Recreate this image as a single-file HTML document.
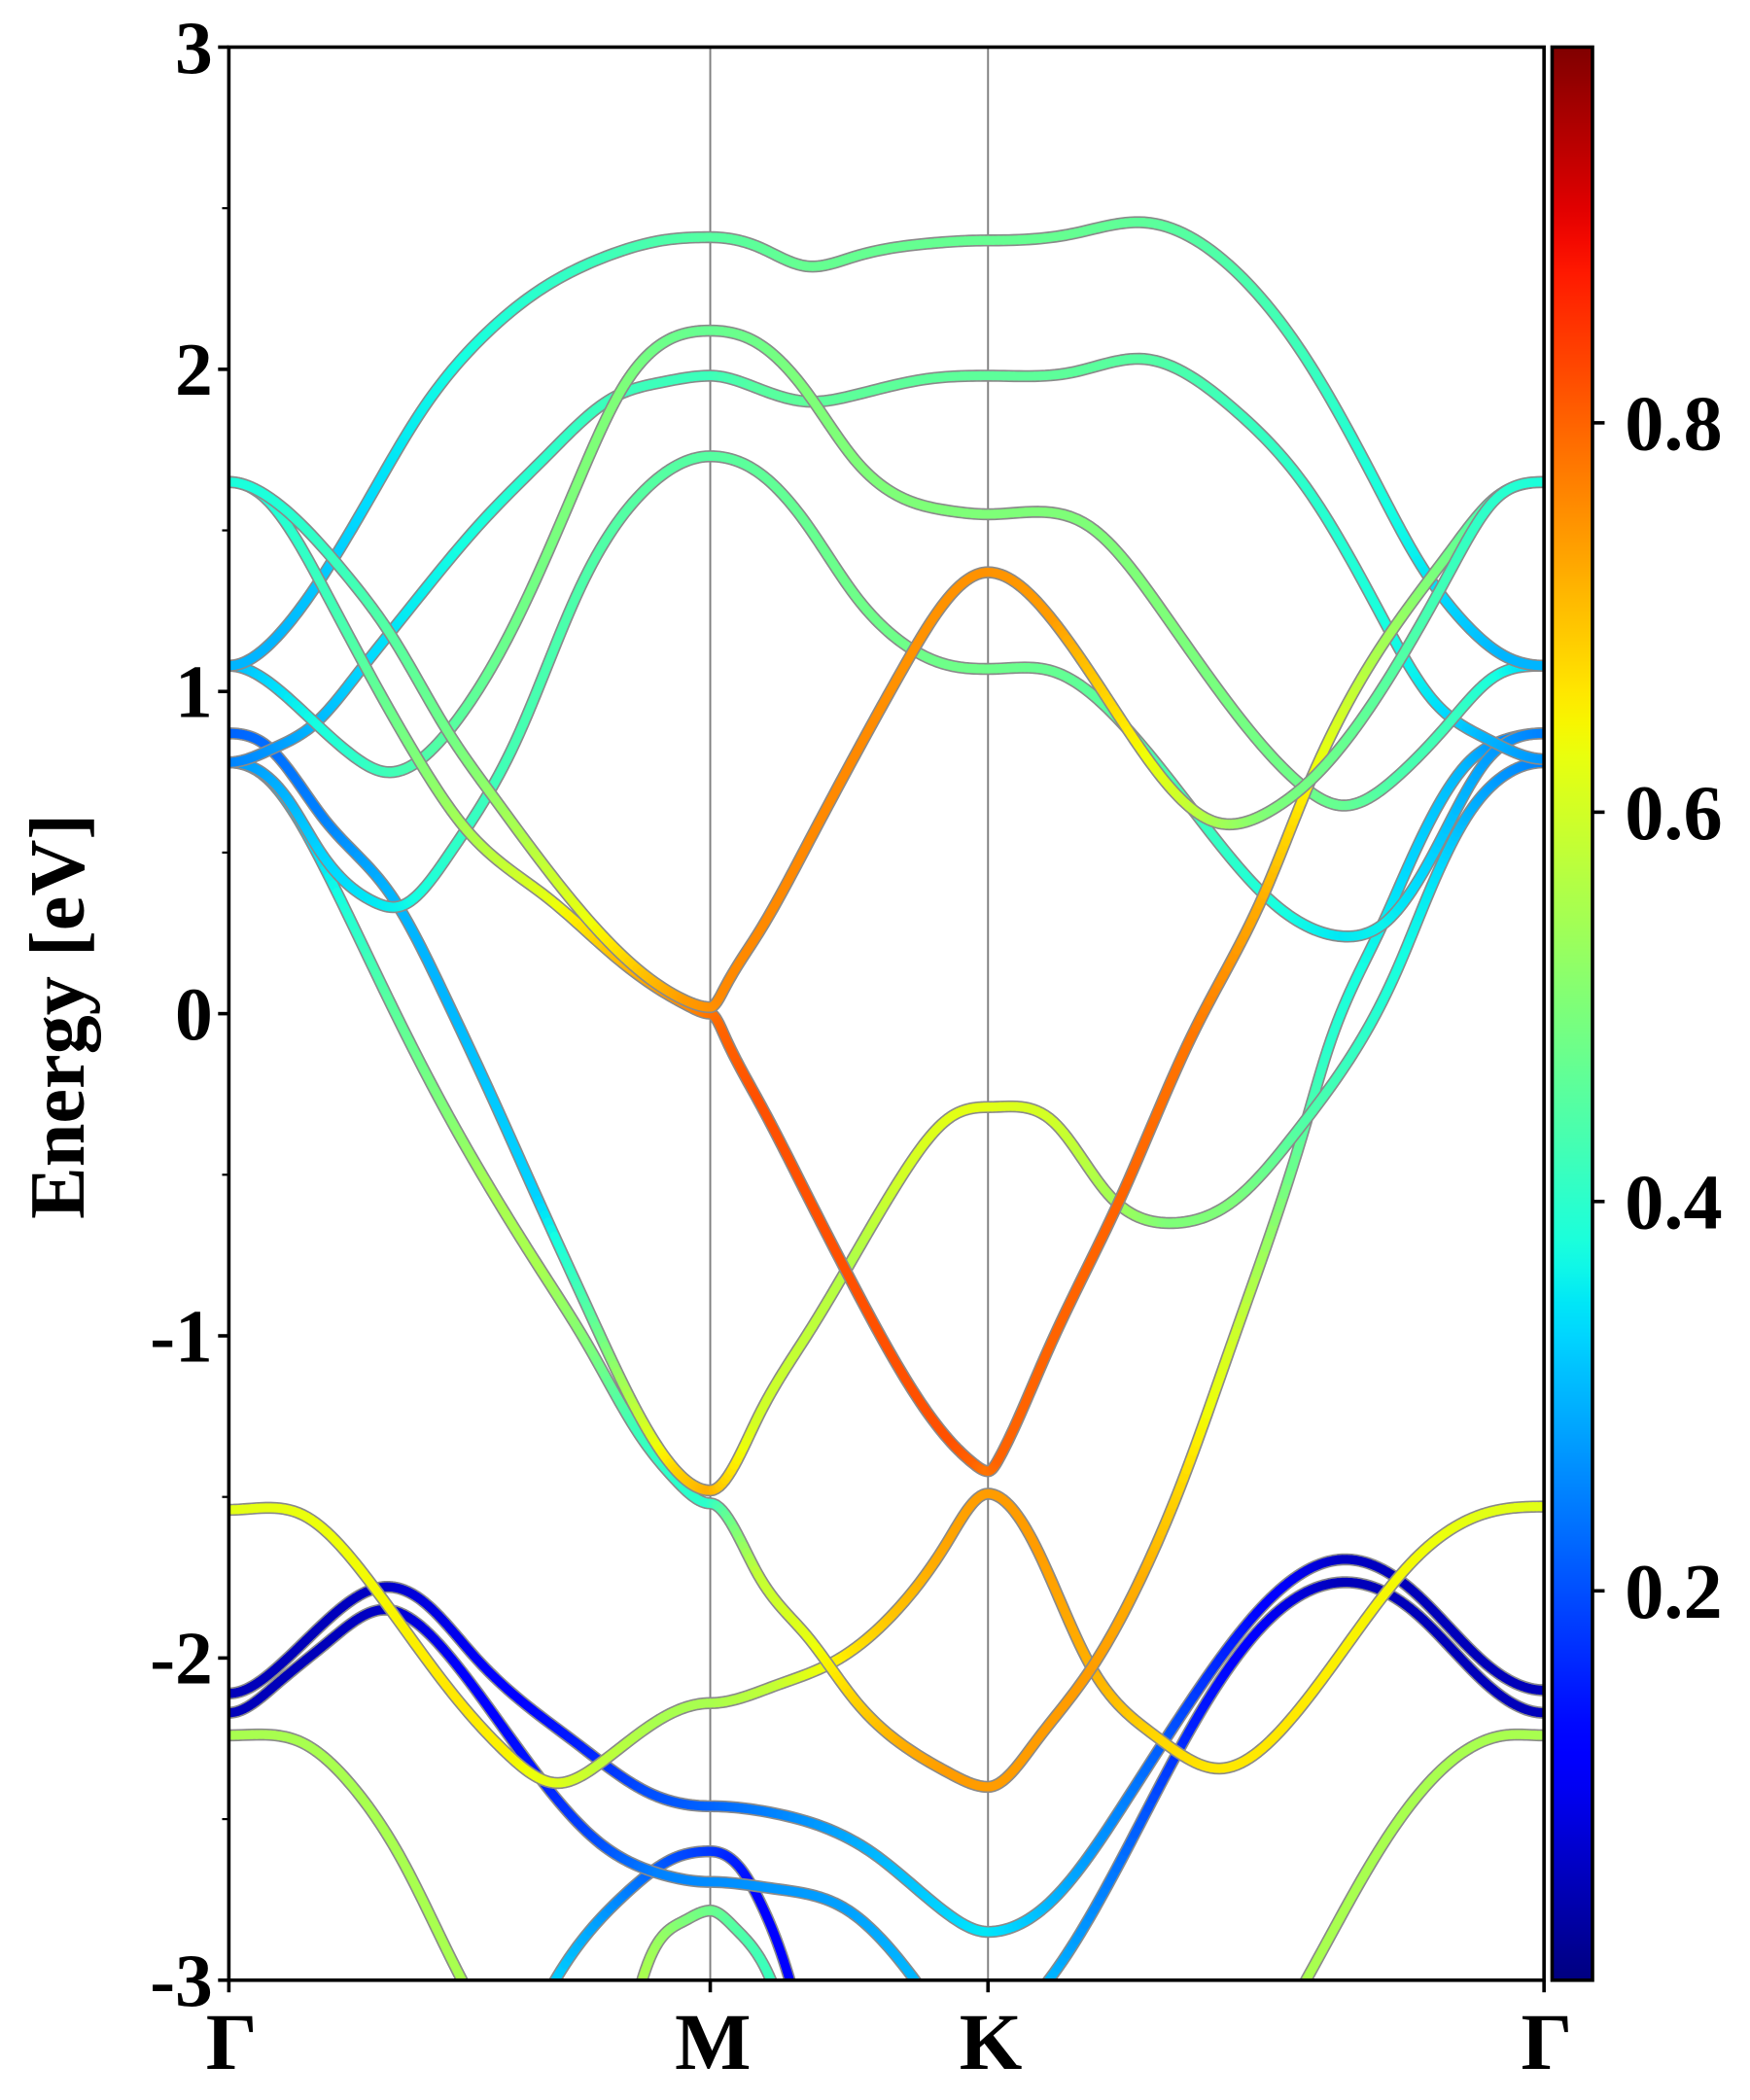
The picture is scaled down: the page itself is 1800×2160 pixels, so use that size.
<!DOCTYPE html>
<html><head><meta charset="utf-8"><style>
html,body{margin:0;padding:0;background:#fff;}
svg{display:block;}
text{font-family:"Liberation Serif","Times New Roman",serif;font-weight:bold;fill:#000;}
</style></head><body>
<svg id="chart" width="1800" height="2160" viewBox="0 0 1300 1560" xmlns="http://www.w3.org/2000/svg">
<defs>
<clipPath id="plotclip"><rect x="170" y="35" width="977" height="1436"/></clipPath>
<linearGradient id="jetgrad" x1="0" y1="1" x2="0" y2="0"></linearGradient>
</defs>
<g id="bands" clip-path="url(#plotclip)"></g>
<g id="axes"></g>
</svg>
<script>
// ---- data (k path coordinate, energy eV, weight) ----
const kTicks = [0, 1, 1.577, 2.732];
const kLabels = ["Γ", "M", "K", "Γ"];
const yTicks = [3, 2, 1, 0, -1, -2, -3];
const yMinor = [2.5, 1.5, 0.5, -0.5, -1.5, -2.5];
const cbTicks = [0.2, 0.4, 0.6, 0.8];
const cbMin = 0, cbMax = 0.993;

const aU_k = [0,.076,.245,.339,.453,.541,.73,.864,.95,1,1.03,1.1,1.2,1.3,1.4,1.5,1.577,1.713,1.826,1.938,2.05,2.163,2.275,2.425,2.537,2.627,2.732];
const aU_E = [1.65,1.61,1.36,1.17,.88,.69,.32,.12,.04,.02,.08,.25,.52,.80,1.07,1.3,1.37,1.218,.975,.733,.594,.629,.767,1.079,1.374,1.59,1.65];
const aU_w = [.38,.38,.42,.45,.48,.52,.62,.7,.74,.75,.76,.76,.76,.76,.75,.75,.75,.74,.68,.62,.55,.5,.48,.45,.42,.4,.38];

const aL_k = [0,.076,.204,.279,.393,.494,.662,.8,.9,.96,1,1.03,1.1,1.2,1.3,1.4,1.5,1.55,1.577,1.6,1.7,1.85,2.0,2.15,2.24,2.39,2.54,2.63,2.732];
const aL_E = [1.65,1.60,1.30,1.09,.79,.57,.36,.18,.07,.02,0,-.07,-.27,-.56,-.85,-1.12,-1.33,-1.40,-1.42,-1.38,-1.05,-.58,-.07,.37,.70,1.13,1.44,1.60,1.65];
const aL_w = [.38,.38,.42,.45,.5,.55,.62,.7,.74,.76,.78,.8,.82,.82,.82,.82,.82,.8,.78,.8,.8,.8,.78,.72,.65,.55,.48,.42,.38];

const b_k = [0,.1,.2,.3,.4,.527,.65,.783,.9,1,1.1,1.2,1.3,1.45,1.577,1.75,1.901,2.088,2.238,2.388,2.463,2.575,2.65,2.732];
const b_E = [1.08,1.17,1.37,1.62,1.87,2.1,2.25,2.35,2.4,2.41,2.38,2.32,2.35,2.39,2.40,2.42,2.456,2.309,2.032,1.633,1.425,1.20,1.11,1.08];
const b_w = [.3,.3,.32,.34,.36,.38,.4,.42,.44,.45,.46,.47,.47,.47,.47,.47,.46,.44,.42,.38,.36,.32,.3,.3];

const c_k = [0,.09,.177,.27,.359,.527,.662,.796,.9,1,1.1,1.2,1.3,1.45,1.577,1.75,1.901,2.088,2.238,2.388,2.5,2.612,2.732];
const c_E = [.78,.822,.898,1.06,1.227,1.529,1.734,1.91,1.96,1.98,1.94,1.90,1.92,1.97,1.98,1.99,2.032,1.876,1.633,1.252,.975,.854,.79];
const c_w = [.25,.27,.3,.33,.35,.38,.4,.42,.42,.42,.45,.46,.46,.46,.46,.46,.45,.42,.4,.38,.35,.3,.27];

const d_k = [0,.123,.258,.326,.46,.595,.73,.817,.9,1,1.1,1.2,1.3,1.4,1.5,1.577,1.788,1.938,2.088,2.223,2.313,2.425,2.537,2.627,2.732];
const d_E = [1.08,.98,.80,.75,.884,1.213,1.666,1.94,2.08,2.12,2.08,1.93,1.72,1.6,1.56,1.55,1.512,1.252,.94,.716,.646,.733,.906,1.044,1.08];
const d_w = [.3,.35,.4,.42,.45,.48,.5,.5,.48,.47,.48,.5,.5,.5,.5,.5,.5,.5,.49,.48,.47,.44,.42,.38,.32];

const f_k = [0,.056,.123,.191,.299,.359,.46,.595,.73,.864,1,1.1,1.2,1.3,1.4,1.5,1.577,1.713,1.863,2.013,2.163,2.313,2.402,2.5,2.612,2.732];
const f_E = [.78,.76,.664,.50,.349,.335,.50,.843,1.323,1.625,1.73,1.68,1.52,1.30,1.15,1.08,1.07,1.062,.889,.612,.352,.24,.283,.49,.785,.87];
const f_w = [.28,.28,.3,.33,.35,.36,.4,.43,.44,.45,.45,.46,.47,.48,.48,.48,.48,.47,.45,.42,.38,.35,.36,.33,.28,.25];

const g_k = [0,.08,.2,.336,.45,.55,.643,.75,.85,.93,1,1.1,1.2,1.3,1.4,1.5,1.577,1.713,1.826,1.953,2.088,2.223,2.313,2.425,2.5,2.575,2.65,2.732];
const g_E = [.87,.83,.60,.37,.05,-.27,-.58,-.93,-1.24,-1.42,-1.48,-1.25,-1.0,-.75,-.5,-.32,-.29,-.336,-.559,-.65,-.58,-.357,-.174,.13,.4,.62,.74,.78];
const g_w = [.22,.23,.25,.3,.3,.32,.33,.45,.58,.68,.72,.6,.58,.56,.6,.62,.62,.6,.55,.5,.5,.45,.42,.38,.35,.3,.27,.25];

const h_k = [0,.08,.2,.33,.45,.55,.65,.75,.85,.93,1,1.1,1.2,1.3,1.4,1.5,1.577,1.676,1.788,1.9,1.976,2.088,2.238,2.283,2.388,2.463,2.575,2.65,2.732];
const h_E = [.78,.73,.45,.05,-.30,-.56,-.8,-1.04,-1.3,-1.45,-1.52,-1.743,-1.93,-2.13,-2.27,-2.36,-2.40,-2.26,-2.04,-1.735,-1.47,-1.005,-.336,-.11,.25,.5,.78,.85,.87];
const h_w = [.28,.3,.35,.45,.5,.55,.55,.5,.42,.4,.4,.58,.62,.68,.72,.74,.74,.74,.74,.72,.68,.6,.45,.4,.36,.33,.3,.26,.24];

const i_k = [0,.154,.288,.463,.577,.68,.772,.896,1,1.133,1.267,1.39,1.493,1.577,1.676,1.788,1.923,2.058,2.2,2.313,2.463,2.612,2.732];
const i_E = [-1.54,-1.556,-1.754,-2.107,-2.295,-2.388,-2.326,-2.19,-2.14,-2.087,-2.003,-1.847,-1.639,-1.49,-1.654,-2.019,-2.24,-2.343,-2.2,-1.98,-1.694,-1.55,-1.53];
const i_w = [.62,.63,.64,.66,.65,.62,.58,.55,.55,.58,.65,.7,.73,.74,.74,.72,.68,.66,.66,.65,.64,.62,.62];

const j_k = [0,.1,.206,.319,.4,.515,.721,.875,1,1.133,1.339,1.493,1.577,1.713,1.863,2.013,2.163,2.313,2.463,2.612,2.732];
const j_E = [-2.11,-2.03,-1.88,-1.78,-1.82,-2.003,-2.263,-2.42,-2.46,-2.482,-2.607,-2.794,-2.85,-2.748,-2.444,-2.1,-1.816,-1.694,-1.796,-2.019,-2.10];
const j_w = [.05,.05,.05,.06,.08,.1,.15,.2,.22,.25,.3,.33,.35,.3,.25,.18,.12,.06,.05,.05,.05];

const kA_k = [0,.1,.206,.319,.463,.618,.772,.896,1,1.133,1.287,1.41,1.45];
const kA_E = [-2.17,-2.08,-1.95,-1.85,-2.003,-2.316,-2.576,-2.67,-2.695,-2.716,-2.784,-2.97,-3.05];
const kA_w = [.05,.05,.05,.06,.1,.14,.2,.25,.26,.27,.28,.3,.3];

const kB_k = [1.66,1.713,1.863,2.013,2.163,2.313,2.463,2.612,2.732];
const kB_E = [-3.08,-2.98,-2.6,-2.181,-1.877,-1.765,-1.857,-2.08,-2.17];
const kB_w = [.3,.3,.23,.15,.1,.05,.05,.05,.05];

const lA_k = [0,.154,.257,.36,.474,.52];
const lA_E = [-2.24,-2.264,-2.399,-2.628,-2.97,-3.1];
const lA_w = [.55,.55,.55,.55,.55,.55];

const lB_k = [2.2,2.245,2.388,2.537,2.65,2.732];
const lB_E = [-3.1,-2.98,-2.6,-2.323,-2.24,-2.24];
const lB_w = [.55,.55,.55,.55,.55,.55];

const m_k = [.64,.69,.824,.927,1,1.061,1.112,1.159,1.18];
const m_E = [-3.1,-2.97,-2.732,-2.62,-2.6,-2.65,-2.784,-2.97,-3.08];
const m_w = [.33,.32,.25,.2,.18,.15,.12,.12,.12];

const n_k = [.84,.865,.947,1,1.05,1.117,1.14];
const n_E = [-3.1,-2.97,-2.815,-2.784,-2.836,-2.97,-3.05];
const n_w = [.55,.55,.5,.48,.45,.42,.42];

const bandList = [
  ["band-lower-green-left", lA_k, lA_E, lA_w], ["band-lower-green-right", lB_k, lB_E, lB_w],
  ["band-m-peak-green", n_k, n_E, n_w], ["band-m-peak-blue", m_k, m_E, m_w],
  ["band-blue-lower", kA_k, kA_E, kA_w], ["band-blue-lower-right", kB_k, kB_E, kB_w],
  ["band-blue-upper", j_k, j_E, j_w], ["band-yellow-lower", i_k, i_E, i_w],
  ["band-h", h_k, h_E, h_w], ["band-g", g_k, g_E, g_w],
  ["band-f", f_k, f_E, f_w], ["band-c", c_k, c_E, c_w],
  ["band-d", d_k, d_E, d_w], ["band-b", b_k, b_E, b_w],
  ["band-dirac-lower", aL_k, aL_E, aL_w], ["band-dirac-upper", aU_k, aU_E, aU_w]
];

// ---- scales ----
const PL = 170, PR = 1147, PT = 35, PB = 1471;
const KMAX = 2.732;
function xOf(k){ return PL + k * (PR - PL) / KMAX; }
function yOf(E){ return PT + (3 - E) * (PB - PT) / 6; }
function clamp(v){ return Math.max(0, Math.min(1, v)); }
const jetR = [[0,0],[0.35,0],[0.66,1],[0.89,1],[1,0.5]];
const jetG = [[0,0],[0.125,0],[0.375,1],[0.64,1],[0.91,0],[1,0]];
const jetB = [[0,0.5],[0.11,1],[0.34,1],[0.65,0],[1,0]];
function lerpTab(tab, t){
  for (let i = 0; i < tab.length-1; i++){
    if (t <= tab[i+1][0]){ const u = (t - tab[i][0])/(tab[i+1][0]-tab[i][0]); return tab[i][1] + u*(tab[i+1][1]-tab[i][1]); }
  }
  return tab[tab.length-1][1];
}
function jet(v){
  const t = clamp((v - cbMin) / (cbMax - cbMin));
  return "rgb(" + Math.round(lerpTab(jetR,t)*255) + "," + Math.round(lerpTab(jetG,t)*255) + "," + Math.round(lerpTab(jetB,t)*255) + ")";
}
const NS = "http://www.w3.org/2000/svg";
function mk(tag, attrs, parent){ const e = document.createElementNS(NS, tag); for (const a in attrs) e.setAttribute(a, attrs[a]); parent.appendChild(e); return e; }
function isHS(k){ return kTicks.some(t => Math.abs(t - k) < 1e-3); }

function splineSlopes(x, y){
  const n = x.length;
  if (n === 2){
    const dl = (y[1]-y[0])/(x[1]-x[0]);
    return [isHS(x[0]) ? 0 : dl, isHS(x[1]) ? 0 : dl];
  }
  const a = new Array(n).fill(0), b = new Array(n).fill(0), c = new Array(n).fill(0), r = new Array(n).fill(0);
  const h = [], d = [];
  for (let i = 0; i < n-1; i++){ h.push(x[i+1]-x[i]); d.push((y[i+1]-y[i])/h[i]); }
  if (isHS(x[0])){ b[0] = 1; r[0] = 0; } else { b[0] = 2; c[0] = 1; r[0] = 3*d[0]; }
  for (let i = 1; i < n-1; i++){
    a[i] = h[i]; b[i] = 2*(h[i-1]+h[i]); c[i] = h[i-1]; r[i] = 3*(h[i]*d[i-1] + h[i-1]*d[i]);
  }
  if (isHS(x[n-1])){ b[n-1] = 1; r[n-1] = 0; } else { a[n-1] = 1; b[n-1] = 2; r[n-1] = 3*d[n-2]; }
  for (let i = 1; i < n; i++){ const w = a[i]/b[i-1]; b[i] -= w*c[i-1]; r[i] -= w*r[i-1]; }
  const m = new Array(n);
  m[n-1] = r[n-1]/b[n-1];
  for (let i = n-2; i >= 0; i--) m[i] = (r[i] - c[i]*m[i+1])/b[i];
  return m;
}

function sampleBand(ks, Es, ws){
  const pieces = []; let cur = [0];
  for (let i = 1; i < ks.length; i++){
    cur.push(i);
    if (isHS(ks[i]) && i < ks.length-1){ pieces.push(cur); cur = [i]; }
  }
  pieces.push(cur);
  const pts = [];
  pieces.forEach((idx, pi) => {
    const x = idx.map(i => ks[i]), y = idx.map(i => Es[i]), w = idx.map(i => ws[i]);
    const m = splineSlopes(x, y);
    for (let i = 0; i < x.length-1; i++){
      const h = x[i+1]-x[i], steps = 16;
      for (let s = (pi > 0 && i === 0) ? 1 : 0; s < steps; s++){
        const t = s/steps, t2 = t*t, t3 = t2*t;
        const E = (2*t3-3*t2+1)*y[i] + (t3-2*t2+t)*h*m[i] + (-2*t3+3*t2)*y[i+1] + (t3-t2)*h*m[i+1];
        pts.push([x[i]+t*h, E, w[i] + t*(w[i+1]-w[i])]);
      }
      if (i === x.length-2) pts.push([x[i+1], y[i+1], w[i+1]]);
    }
  });
  return pts;
}

const bandsG = document.getElementById("bands");
kTicks.slice(1, 3).forEach((k, idx) => {
  const ln = mk("line", {x1: xOf(k), x2: xOf(k), y1: PT, y2: PB, stroke: "#808080", "stroke-width": 1.4}, bandsG);
  
  
});

bandList.forEach(([name, ks, Es, ws]) => {
  const g = mk("g", {}, bandsG);
  
  
  const pts = sampleBand(ks, Es, ws);
  const d = pts.map((p, i) => (i ? "L" : "M") + xOf(p[0]).toFixed(2) + " " + yOf(p[1]).toFixed(2)).join("");
  mk("path", {d: d, fill: "none", stroke: "#8a8a8a", "stroke-width": 9, "stroke-linejoin": "round", "stroke-linecap": "butt"}, g);
  for (let i = 0; i < pts.length-1; i++){
    const w = (pts[i][2] + pts[i+1][2]) / 2;
    const seg = mk("line", {x1: xOf(pts[i][0]).toFixed(2), y1: yOf(pts[i][1]).toFixed(2), x2: xOf(pts[i+1][0]).toFixed(2), y2: yOf(pts[i+1][1]).toFixed(2),
      stroke: jet(w), "stroke-width": 6.6, "stroke-linecap": "round"}, g);
    
    
  }
});

// ---- axes ----
const ax = document.getElementById("axes");
const frame = mk("rect", {x: PL, y: PT, width: PR-PL, height: PB-PT, fill: "none", stroke: "#000", "stroke-width": 2.6}, ax);


yTicks.forEach(v => {
  const t = mk("line", {x1: PL-8, x2: PL, y1: yOf(v), y2: yOf(v), stroke: "#000", "stroke-width": 2.6}, ax);
  
  
  const lb = mk("text", {x: PL-12, y: yOf(v)+19, "text-anchor": "end", "font-size": 56}, ax);
  lb.textContent = String(v);
  
  
});
yMinor.forEach(v => {
  const t = mk("line", {x1: PL-5, x2: PL, y1: yOf(v), y2: yOf(v), stroke: "#000", "stroke-width": 1.6}, ax);
  
  
});
kTicks.forEach((k, i) => {
  const t = mk("line", {x1: xOf(k), x2: xOf(k), y1: PB, y2: PB+9, stroke: "#000", "stroke-width": 2.6}, ax);
  
  
  const lb = mk("text", {x: xOf(k)+2, y: PB+66, "text-anchor": "middle", "font-size": 60}, ax);
  lb.textContent = kLabels[i];
  
  
});
const yt = mk("text", {x: 0, y: 0, "text-anchor": "middle", "font-size": 58, transform: "translate(62,755) rotate(-90)"}, ax);
yt.textContent = "Energy [eV]";



// ---- colorbar ----
const grad = document.getElementById("jetgrad");
for (let s = 0; s <= 60; s++){
  const v = cbMin + (cbMax - cbMin) * s / 60;
  mk("stop", {offset: (s/60).toFixed(3), "stop-color": jet(v)}, grad);
}
const CBL = 1153, CBR = 1183;
const cb = mk("rect", {x: CBL, y: PT, width: CBR-CBL, height: PB-PT, fill: "url(#jetgrad)", stroke: "#000", "stroke-width": 2.6}, ax);


cbTicks.forEach(v => {
  const y = PB - (v - cbMin) / (cbMax - cbMin) * (PB - PT);
  const t = mk("line", {x1: CBR, x2: CBR+9, y1: y, y2: y, stroke: "#000", "stroke-width": 2.6}, ax);
  
  
  const lb = mk("text", {x: CBR+24, y: y+20, "text-anchor": "start", "font-size": 58}, ax);
  lb.textContent = v.toFixed(1);
  
  
});
</script>
</body></html>
